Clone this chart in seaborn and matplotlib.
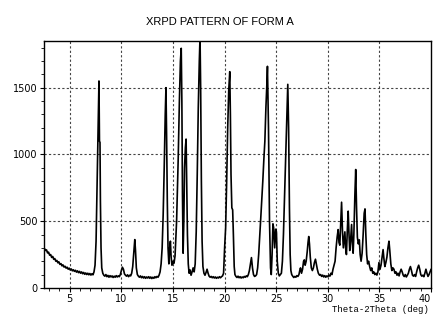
import matplotlib
matplotlib.use("Agg")
import matplotlib.pyplot as plt
from matplotlib.ticker import MultipleLocator
import seaborn as sns
import pandas as pd

# 2theta (deg) / counts
two_theta = [
    2.55, 2.65, 2.75, 2.85, 2.95, 3.05, 3.15, 3.25, 3.35, 3.45, 3.55, 3.65, 3.75, 3.85, 3.95,
    4.05, 4.15, 4.25, 4.35, 4.45, 4.55, 4.65, 4.75, 4.85, 4.95, 5.05, 5.15, 5.25, 5.35, 5.45,
    5.55, 5.65, 5.75, 5.85, 5.95, 6.05, 6.15, 6.25, 6.35, 6.45, 6.55, 6.65, 6.75, 6.85, 6.95,
    7.05, 7.15, 7.25, 7.35,
    7.45, 7.55, 7.62, 7.7, 7.78, 7.83, 7.88, 7.93, 7.97, 8.03, 8.1, 8.2,
    8.3, 8.4, 8.5, 8.6, 8.7, 8.8, 8.9, 9.0, 9.1, 9.2, 9.3, 9.4, 9.5, 9.6, 9.7, 9.8, 9.9,
    10.0, 10.1, 10.2, 10.3, 10.4, 10.5, 10.6, 10.7, 10.8, 10.9, 11.0, 11.1, 11.2, 11.3, 11.37,
    11.45, 11.55, 11.65, 11.75, 11.85, 11.95, 12.05, 12.15, 12.25, 12.35, 12.45, 12.55, 12.65,
    12.75, 12.85, 12.95, 13.05, 13.15, 13.25, 13.35, 13.45, 13.55, 13.65, 13.75,
    13.85, 13.95, 14.05, 14.15, 14.25, 14.32, 14.38, 14.45, 14.52, 14.6, 14.68, 14.75, 14.82,
    14.9, 15.0, 15.1, 15.2, 15.35, 15.5, 15.62, 15.72, 15.8, 15.86, 15.92, 15.98, 16.05, 16.12,
    16.2, 16.27, 16.33, 16.4, 16.48, 16.56, 16.65, 16.75, 16.85, 16.95, 17.05, 17.15, 17.25,
    17.35, 17.45, 17.55, 17.62, 17.68, 17.75, 17.82, 17.9, 18.0, 18.1, 18.2, 18.3, 18.4, 18.5,
    18.6, 18.7, 18.8, 18.9, 19.0, 19.1, 19.2, 19.3, 19.4, 19.5, 19.6, 19.7, 19.8, 19.9,
    20.0, 20.1, 20.2, 20.3, 20.4, 20.5, 20.56, 20.62, 20.7, 20.78, 20.85, 20.93, 21.0, 21.1,
    21.2, 21.3, 21.4, 21.5, 21.6, 21.7, 21.8, 21.9, 22.0, 22.1, 22.2, 22.3, 22.4, 22.5, 22.6,
    22.7, 22.8, 22.9, 23.0, 23.1, 23.2, 23.3, 23.4, 23.5, 23.6, 23.7, 23.8, 23.9, 24.0, 24.08,
    24.15, 24.25, 24.35, 24.45, 24.52, 24.6, 24.68, 24.75, 24.85, 24.95, 25.02, 25.1, 25.2,
    25.3, 25.4, 25.5, 25.6, 25.7, 25.85, 26.0, 26.12, 26.2, 26.28, 26.35, 26.42,
    26.5, 26.6, 26.7, 26.8, 26.9, 27.0, 27.1, 27.2, 27.28, 27.35, 27.45, 27.55, 27.65,
    27.72, 27.8, 27.9, 28.0, 28.08, 28.15, 28.22, 28.3, 28.4, 28.5, 28.6, 28.7, 28.8, 28.88,
    28.98, 29.08, 29.2, 29.3, 29.4, 29.5, 29.6, 29.7, 29.8, 29.9, 30.0, 30.1, 30.2, 30.3, 30.4,
    30.5, 30.6, 30.7, 30.8, 30.9, 31.0, 31.08, 31.16, 31.25, 31.33, 31.42, 31.5, 31.58, 31.65,
    31.72, 31.8, 31.88, 31.97, 32.05, 32.12, 32.2, 32.3, 32.38, 32.45, 32.52, 32.62, 32.7,
    32.78, 32.86, 32.95, 33.05, 33.13, 33.22, 33.32, 33.42, 33.52, 33.6, 33.68, 33.76, 33.85,
    33.95, 34.05, 34.15, 34.25, 34.35, 34.45, 34.55, 34.65, 34.75, 34.85, 34.95, 35.05, 35.15,
    35.25, 35.35, 35.43, 35.52, 35.62, 35.72, 35.82, 35.92, 36.0, 36.1, 36.2, 36.3, 36.4, 36.5,
    36.6, 36.7, 36.8, 36.9, 37.0, 37.1, 37.2, 37.3, 37.4, 37.5, 37.6, 37.7, 37.8, 37.9, 38.0,
    38.1, 38.2, 38.3, 38.4, 38.5, 38.6, 38.7, 38.8, 38.9, 39.0, 39.1, 39.2, 39.3, 39.4, 39.5,
    39.6, 39.7, 39.8, 39.9, 40.0,
]
counts = [
    295, 280, 285, 262, 268, 245, 250, 228, 236, 214, 220, 200, 206, 188, 195,
    176, 182, 165, 172, 156, 162, 148, 155, 140, 148, 134, 142, 128, 136, 124,
    132, 118, 128, 114, 124, 110, 120, 106, 116, 102, 112, 100, 110, 98, 108,
    96, 106, 98, 120,
    170, 350, 650, 1000, 1300, 1550, 1100, 1090, 650, 300, 150, 110,
    95, 88, 100, 84, 94, 80, 92, 82, 90, 78, 88, 80, 92, 82, 90, 84, 100,
    130, 155, 140, 105, 95, 88, 98, 84, 95, 90, 110, 160, 260, 362, 280,
    150, 100, 88, 80, 90, 76, 86, 74, 84, 72, 82, 74, 84,
    72, 82, 70, 80, 72, 84, 76, 86, 80, 95, 120,
    180, 300, 550, 900, 1300, 1500, 1150, 650, 300, 180, 300, 350, 230,
    170, 200, 185, 240, 500, 950, 1400, 1700, 1795, 1400, 700, 260, 500, 900,
    1050, 1115, 800, 400, 180, 110, 135, 95, 120, 150, 120, 180, 420,
    850, 1350, 1700, 1880, 1500, 800, 350, 160, 110, 95, 115, 140, 110, 88,
    80, 86, 76, 84, 74, 82, 72, 80, 74, 84, 76, 84, 90, 110,
    300, 450, 800, 1200, 1480, 1620, 1300, 850, 600, 585, 400, 160, 100, 86,
    78, 88, 76, 84, 74, 82, 76, 86, 80, 90, 84, 100, 130, 180, 227,
    150, 100, 86, 90, 100, 150, 250, 380, 520, 660, 800, 960, 1100, 1350, 1500,
    1660, 1200, 500, 150, 100, 250, 480, 450, 300, 440, 420, 200, 110,
    90, 100, 110, 200, 400, 800, 1200, 1525, 1200, 600, 250, 130,
    100, 88, 78, 86, 80, 92, 86, 100, 130, 150, 110, 140, 200,
    210, 170, 200, 270, 340, 385, 330, 230, 150, 130, 150, 190, 215, 180,
    140, 110, 95, 100, 86, 96, 82, 92, 80, 90, 84, 95, 88, 110, 100,
    140, 170, 200, 300, 380, 437, 340, 320, 500, 642, 420, 300, 360, 420,
    300, 250, 420, 575, 400, 280, 350, 475, 320, 260, 400, 700, 887,
    600, 380, 330, 360, 250, 200, 260, 400, 560, 592, 400, 250, 180,
    200, 160, 130, 150, 110, 120, 100, 110, 96, 120, 190, 140, 170,
    230, 287, 220, 160, 190, 230, 300, 350, 280, 180, 130, 150, 140, 110,
    120, 95, 110, 90, 120, 140, 120, 95, 85, 100, 82, 95, 110, 140, 160,
    130, 95, 88, 100, 86, 120, 150, 170, 140, 100, 88, 95, 84, 110, 140,
    110, 86, 100, 120, 140,
]
x_ticks = [5, 10, 15, 20, 25, 30, 35, 40]
y_ticks = [0, 500, 1000, 1500]

df = pd.DataFrame({"two_theta": two_theta, "counts": counts})

sns.set_style("white")
fig = plt.figure(figsize=(4.35, 3.15), dpi=100)
ax = fig.add_axes([0.101, 0.086, 0.890, 0.784])

sns.lineplot(data=df, x="two_theta", y="counts", ax=ax, color="black",
             linewidth=1.2, estimator=None, sort=False)

ax.set_xlim(2.5, 40)
ax.set_ylim(0, 1850)
ax.set_xticks(x_ticks)
ax.set_yticks(y_ticks)
ax.xaxis.set_minor_locator(MultipleLocator(1))
ax.yaxis.set_minor_locator(MultipleLocator(100))
ax.tick_params(which="major", direction="out", length=3, width=0.8, labelsize=7, pad=1.5,
               colors="black", labelcolor="black")
ax.tick_params(which="minor", direction="out", length=2, width=0.6, colors="black")
ax.tick_params(axis="x", which="both", bottom=True)
ax.tick_params(axis="y", which="both", left=True)
# last label sits at the right edge, keep it inside the figure
ax.get_xticklabels()[-1].set_horizontalalignment("right")

for v in x_ticks[:-1]:
    ax.axvline(v, color="#444444", lw=0.8, ls=(0, (2, 2)), zorder=0)
for v in y_ticks[1:]:
    ax.axhline(v, color="#444444", lw=0.8, ls=(0, (2, 2)), zorder=0)

for s in ax.spines.values():
    s.set_color("black")
    s.set_linewidth(1.0)

ax.set_xlabel("")
ax.set_ylabel("")
fig.text(0.985, 0.002, "Theta-2Theta (deg)", ha="right", va="bottom", color="black",
         family=["Liberation Mono", "DejaVu Sans Mono"], fontsize=6.5)
fig.text(0.505, 0.93, "XRPD PATTERN OF FORM A", ha="center", va="center", color="black",
         family=["Liberation Sans", "DejaVu Sans"], fontsize=8)

fig.savefig("out.png", dpi=100)
